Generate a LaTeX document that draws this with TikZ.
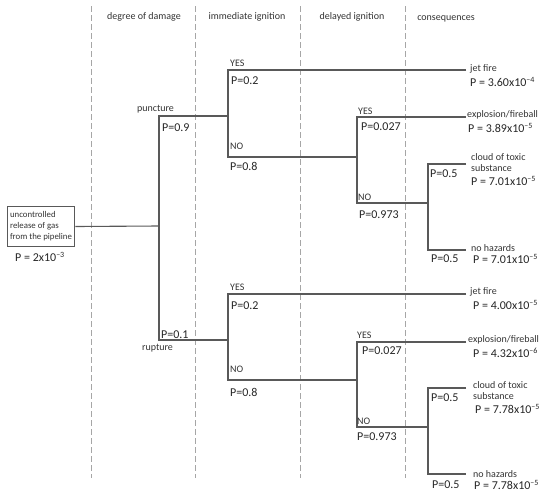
\documentclass[tikz,border=0pt]{standalone}
\usepackage{fontspec}
\setmainfont{Carlito}
\begin{document}
\begin{tikzpicture}[
  x=1pt, y=-1pt,
  branch/.style={draw=black!65, line width=1.1pt},
  stage/.style={draw=black!35, dash pattern=on 6pt off 3pt, line width=0.8pt},
  lab/.style={font=\fontsize{10}{11}\selectfont, text=black!80, inner sep=0pt, anchor=west},
  prob/.style={font=\fontsize{12}{13}\selectfont, text=black!85, inner sep=0pt, anchor=west},
  head/.style={font=\fontsize{10}{11}\selectfont, text=black!80, inner sep=0pt},
  rootbox/.style={draw=black!65, line width=0.9pt, align=left, inner xsep=3pt, inner ysep=5pt,
    font=\fontsize{8.8}{11}\selectfont, text=black!80}
]
\useasboundingbox (0,0) rectangle (550,499);

% stage separators
\foreach \sx in {91,195,300,405}
  \draw[stage] (\sx,6) -- (\sx,478);

\node[head] (hdmg) at (144,17) {degree of damage};
\node[head] (himm) at (247,17) {immediate ignition};
\node[head] (hdel) at (352,17) {delayed ignition};
\node[head] (hcon) at (446,19) {consequences};

% initiating event
\node[rootbox] (root) at (41,226.5) {uncontrolled\\release of gas\\from the pipeline};
\node[prob, anchor=center] (proot) at (40,257) {P = 2x10\textsuperscript{\textendash3}};

% branch points
\coordinate (dmg) at (159,226);
\coordinate (punc) at (159,116);
\coordinate (rupt) at (159,340);
\coordinate (immA) at (228,116);
\coordinate (immB) at (228,340);

\coordinate (yesA) at (228,70);
\coordinate (noA) at (228,157);
\coordinate (jetA) at (466,70);
\coordinate (delA) at (357,157);
\coordinate (dyesA) at (357,117);
\coordinate (dnoA) at (357,203);
\coordinate (expA) at (466,117);
\coordinate (toxA) at (428,203);
\coordinate (cyesA) at (428,164);
\coordinate (cnoA) at (428,250);
\coordinate (cldA) at (466,164);
\coordinate (nhA) at (466,250);

\coordinate (yesB) at (228,294);
\coordinate (noB) at (228,380);
\coordinate (jetB) at (466,294);
\coordinate (delB) at (357,380);
\coordinate (dyesB) at (357,342);
\coordinate (dnoB) at (357,427);
\coordinate (expB) at (466,342);
\coordinate (toxB) at (428,427);
\coordinate (cyesB) at (428,388);
\coordinate (cnoB) at (428,474);
\coordinate (cldB) at (466,388);
\coordinate (nhB) at (466,474);

% tree
\draw[branch] (root.east) -- (dmg);
\draw[branch] (immA) -- (punc) -- (rupt) -- (immB);
\draw[branch] (jetA) -- (yesA) -- (noA) -- (delA);
\draw[branch] (expA) -- (dyesA) -- (dnoA) -- (toxA);
\draw[branch] (cldA) -- (cyesA) -- (cnoA) -- (nhA);
\draw[branch] (jetB) -- (yesB) -- (noB) -- (delB);
\draw[branch] (expB) -- (dyesB) -- (dnoB) -- (toxB);
\draw[branch] (cldB) -- (cyesB) -- (cnoB) -- (nhB);

% degree of damage
\node[lab, anchor=center] (lpunc) at (155.5,109) {puncture};
\node[prob] (ppunc) at (162,128) {P=0.9};
\node[prob] (prupt) at (161,335) {P=0.1};
\node[lab, anchor=center] (lrupt) at (157.5,348) {rupture};

% upper branch
\node[lab] (lyesA) at (230,63) {YES};
\node[prob] (pyesA) at (231,81) {P=0.2};
\node[lab] (lnoA) at (230,146) {NO};
\node[prob] (pnoA) at (230,166) {P=0.8};
\node[lab] (ljetA) at (470,69) {jet fire};
\node[prob] (pjetA) at (470,82) {P = 3.60x10\textsuperscript{\textendash4}};
\node[lab] (ldyesA) at (358,111) {YES};
\node[prob] (pdyesA) at (361,127) {P=0.027};
\node[lab] (ldnoA) at (358,197) {NO};
\node[prob] (pdnoA) at (359,215) {P=0.973};
\node[lab] (lexpA) at (467,115) {explosion/fireball};
\node[prob] (pexpA) at (468,128) {P = 3.89x10\textsuperscript{\textendash5}};
\node[prob] (pcyesA) at (430,174) {P=0.5};
\node[lab] (lcldA) at (471,157) {cloud of toxic};
\node[lab] (lsubA) at (471,168) {substance};
\node[prob] (pcldA) at (471,181) {P = 7.01x10\textsuperscript{\textendash5}};
\node[lab] (lnhA) at (471,248) {no hazards};
\node[prob] (pcnoA) at (431,259) {P=0.5};
\node[prob] (pnhA) at (473,259) {P = 7.01x10\textsuperscript{\textendash5}};

% lower branch
\node[lab] (lyesB) at (230,287) {YES};
\node[prob] (pyesB) at (231,305.5) {P=0.2};
\node[lab] (lnoB) at (230,369) {NO};
\node[prob] (pnoB) at (230,392) {P=0.8};
\node[lab] (ljetB) at (470,292) {jet fire};
\node[prob] (pjetB) at (473,305) {P = 4.00x10\textsuperscript{\textendash5}};
\node[lab] (ldyesB) at (357,335) {YES};
\node[prob] (pdyesB) at (362,351) {P=0.027};
\node[lab] (ldnoB) at (357,421) {NO};
\node[prob] (pdnoB) at (357,437) {P=0.973};
\node[lab] (lexpB) at (468,340) {explosion/fireball};
\node[prob] (pexpB) at (473,353) {P = 4.32x10\textsuperscript{\textendash6}};
\node[prob] (pcyesB) at (431,398) {P=0.5};
\node[lab] (lcldB) at (473,385) {cloud of toxic};
\node[lab] (lsubB) at (473,396) {substance};
\node[prob] (pcldB) at (475,409) {P = 7.78x10\textsuperscript{\textendash5}};
\node[lab] (lnhB) at (473,474) {no hazards};
\node[prob] (pcnoB) at (432,485) {P=0.5};
\node[prob] (pnhB) at (474,485) {P = 7.78x10\textsuperscript{\textendash5}};
\end{tikzpicture}
\end{document}
